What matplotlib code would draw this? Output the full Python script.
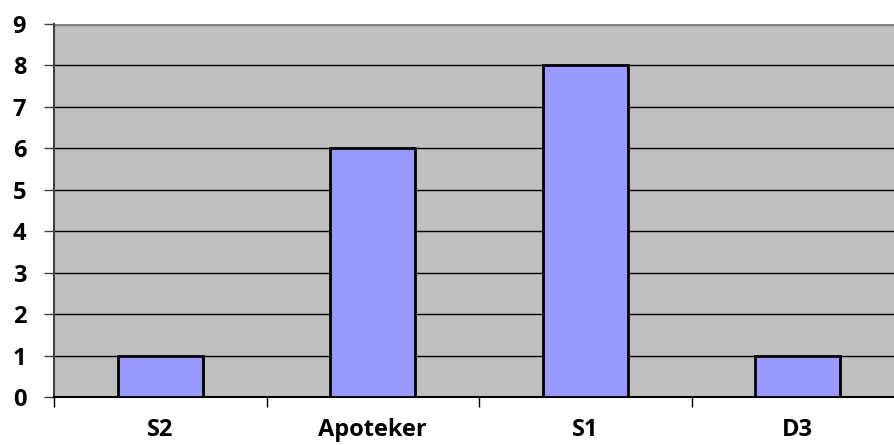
import matplotlib.pyplot as plt
import numpy as np

categories = ["S2", "Apoteker", "S1", "D3"]
values = [1, 6, 8, 1]
yticks = list(range(0, 10))

plt.rcParams['font.family'] = ['Open Sans', 'DejaVu Sans']

fig = plt.figure(figsize=(8.94, 4.45), dpi=100)
ax = fig.add_axes([54 / 894, 48 / 445, 850 / 894, 373 / 445])
ax.set_facecolor('#C0C0C0')

x = np.arange(len(categories))
ax.bar(x, values, width=0.40, color='#9999FF', edgecolor='black', linewidth=2, zorder=3)

ax.set_xlim(-0.5, len(categories) - 0.5)
ax.set_ylim(0, 9)
ax.set_yticks(yticks)
ax.set_yticklabels([str(v) for v in yticks], fontsize=17, fontweight='bold')
for v in yticks[1:-1]:
    ax.axhline(v, color='black', linewidth=1, zorder=1)
ax.axhline(9, color='#808080', linewidth=2.5, zorder=1)

# category boundary ticks below the axis
ax.set_xticks(np.arange(len(categories) + 1) - 0.5)
ax.set_xticklabels([])
ax.tick_params(axis='x', direction='out', length=7, width=1, color='black')
ax.set_xticks(x, minor=True)
ax.set_xticklabels(categories, minor=True, fontsize=17, fontweight='bold')
ax.tick_params(axis='x', which='minor', length=0, pad=15)
ax.tick_params(axis='y', direction='out', length=7, width=1, color='#404040', pad=13)

ax.spines['top'].set_visible(False)
ax.spines['right'].set_visible(False)
ax.spines['left'].set_color('#404040')
ax.spines['left'].set_linewidth(1.5)
ax.spines['bottom'].set_color('black')
ax.spines['bottom'].set_linewidth(1.5)

fig.savefig("out.png", dpi=100, facecolor='white')
